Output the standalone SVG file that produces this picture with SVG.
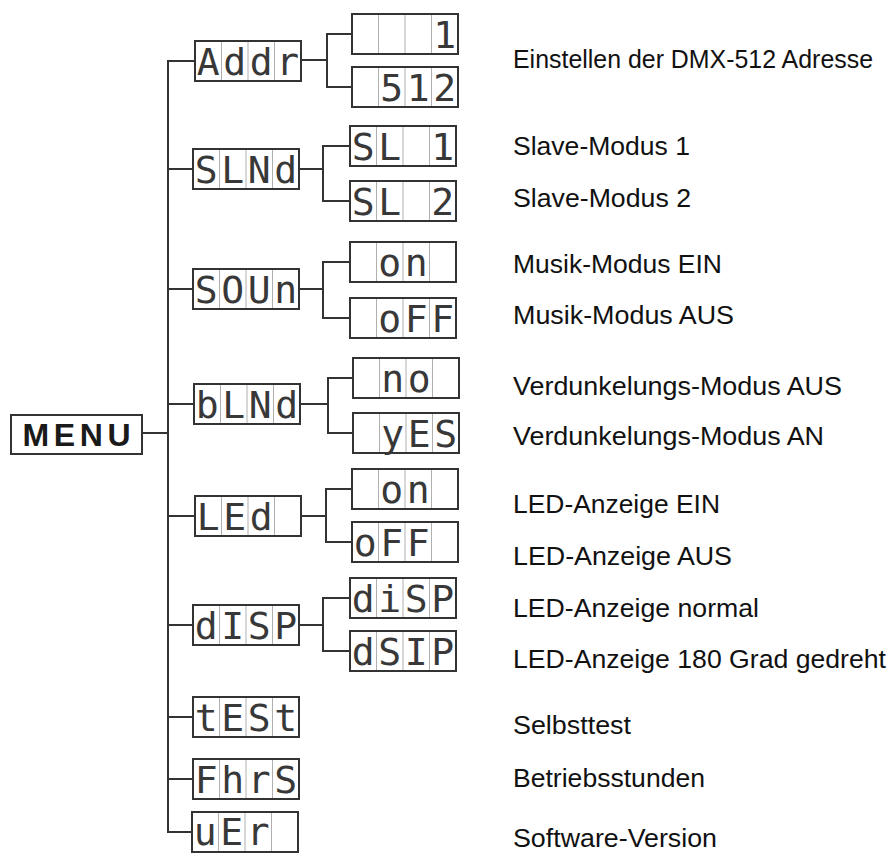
<svg xmlns="http://www.w3.org/2000/svg" width="890" height="854" viewBox="0 0 890 854">
<style>
.bg{fill:#fff}
.box{fill:#fff;stroke:#333;stroke-width:2}
.div{stroke:#b0b0b0;stroke-width:1;fill:none}
.seg{font-family:"DejaVu Sans Mono",monospace;font-size:38px;fill:#383838;text-anchor:middle}
.lbl{font-family:"Liberation Sans",Arial,sans-serif;font-size:25px;fill:#111}
.con{fill:none;stroke:#333;stroke-width:2}
.menu{font-family:"Liberation Sans",Arial,sans-serif;font-size:32px;font-weight:bold;fill:#1a1a1a;text-anchor:middle}
</style>
<defs>
<g id="cell">
<rect class="box" x="0" y="0" width="106" height="40"/>
<path class="div" d="M26.5,1V39M53,1V39M79.5,1V39"/>
</g>
</defs>
<rect class="bg" x="0" y="0" width="890" height="854"/>

<g id="connectors">
<path class="con" d="M142,433H168"/>
<path class="con" d="M195,61H168V832H192"/>
<path class="con" d="M168,169H193M168,289H193M168,404H194M168,516H195M168,625H193M168,717H193M168,779H193"/>
<path class="con" d="M301,60H327M352,34H327V87H352"/>
<path class="con" d="M299,169H323M350,146H323V201H350"/>
<path class="con" d="M299,289H323M350,262H323V318H350"/>
<path class="con" d="M300,404H328M353,378H328V433H353"/>
<path class="con" d="M301,516H326M352,489H326V542H352"/>
<path class="con" d="M299,625H323M350,598H323V651H350"/>
</g>

<g id="menu">
<rect class="box" x="11" y="415" width="131" height="39"/>
<text class="menu" x="76.5" y="446" textLength="108" lengthAdjust="spacing">MENU</text>
</g>

<g id="m-addr" transform="translate(195,41)"><use href="#cell"/><text class="seg" x="13.25 39.75 66.25 92.75" y="34">Addr</text></g>
<g id="m-slnd" transform="translate(193,149)"><use href="#cell"/><text class="seg" x="13.25 39.75 66.25 92.75" y="34">SLNd</text></g>
<g id="m-soun" transform="translate(193,269)"><use href="#cell"/><text class="seg" x="13.25 39.75 66.25 92.75" y="34">SOUn</text></g>
<g id="m-blnd" transform="translate(194,384)"><use href="#cell"/><text class="seg" x="13.25 39.75 66.25 92.75" y="34">bLNd</text></g>
<g id="m-led" transform="translate(195,496)"><use href="#cell"/><text class="seg" x="13.25 39.75 66.25" y="34">LEd</text></g>
<g id="m-disp" transform="translate(193,605)"><use href="#cell"/><text class="seg" x="13.25 39.75 66.25 92.75" y="34">dISP</text></g>
<g id="m-test" transform="translate(193,697)"><use href="#cell"/><text class="seg" x="13.25 39.75 66.25 92.75" y="34">tESt</text></g>
<g id="m-fhrs" transform="translate(193,759)"><use href="#cell"/><text class="seg" x="13.25 39.75 66.25 92.75" y="34">FhrS</text></g>
<g id="m-ver" transform="translate(192,812)"><use href="#cell"/><text class="seg" x="13.25 39.75 66.25" y="33">uEr</text></g>

<g id="s-addr1" transform="translate(352,14)"><use href="#cell"/><text class="seg" x="92.75" y="34">1</text></g>
<g id="s-addr512" transform="translate(352,67)"><use href="#cell"/><text class="seg" x="39.75 66.25 92.75" y="34">512</text></g>
<g id="s-sl1" transform="translate(350,126)"><use href="#cell"/><text class="seg" x="13.25 39.75 92.75" y="34">SL1</text></g>
<g id="s-sl2" transform="translate(350,181)"><use href="#cell"/><text class="seg" x="13.25 39.75 92.75" y="34">SL2</text></g>
<g id="s-on" transform="translate(350,242)"><use href="#cell"/><text class="seg" x="39.75 66.25" y="34">on</text></g>
<g id="s-off" transform="translate(350,298)"><use href="#cell"/><text class="seg" x="39.75 66.25 92.75" y="34">oFF</text></g>
<g id="s-no" transform="translate(353,358)"><use href="#cell"/><text class="seg" x="39.75 66.25" y="34">no</text></g>
<g id="s-yes" transform="translate(353,413)"><use href="#cell"/><text class="seg" x="39.75 66.25 92.75" y="34">yES</text></g>
<g id="s-ledon" transform="translate(352,469)"><use href="#cell"/><text class="seg" x="39.75 66.25" y="34">on</text></g>
<g id="s-ledoff" transform="translate(352,522)"><use href="#cell"/><text class="seg" x="13.25 39.75 66.25" y="34">oFF</text></g>
<g id="s-disp1" transform="translate(350,578)"><use href="#cell"/><text class="seg" x="13.25 39.75 66.25 92.75" y="34">diSP</text></g>
<g id="s-disp2" transform="translate(350,631)"><use href="#cell"/><text class="seg" x="13.25 39.75 66.25 92.75" y="34">dSIP</text></g>

<g id="labels">
<text class="lbl" x="513" y="68" textLength="360" lengthAdjust="spacingAndGlyphs">Einstellen der DMX-512 Adresse</text>
<text class="lbl" x="513" y="155" textLength="177" lengthAdjust="spacingAndGlyphs">Slave-Modus 1</text>
<text class="lbl" x="513" y="207" textLength="178" lengthAdjust="spacingAndGlyphs">Slave-Modus 2</text>
<text class="lbl" x="513" y="273" textLength="209" lengthAdjust="spacingAndGlyphs">Musik-Modus EIN</text>
<text class="lbl" x="513" y="324" textLength="221" lengthAdjust="spacingAndGlyphs">Musik-Modus AUS</text>
<text class="lbl" x="513" y="395" textLength="329" lengthAdjust="spacingAndGlyphs">Verdunkelungs-Modus AUS</text>
<text class="lbl" x="513" y="445" textLength="311" lengthAdjust="spacingAndGlyphs">Verdunkelungs-Modus AN</text>
<text class="lbl" x="513" y="513" textLength="207" lengthAdjust="spacingAndGlyphs">LED-Anzeige EIN</text>
<text class="lbl" x="513" y="565" textLength="219" lengthAdjust="spacingAndGlyphs">LED-Anzeige AUS</text>
<text class="lbl" x="513" y="617" textLength="246" lengthAdjust="spacingAndGlyphs">LED-Anzeige normal</text>
<text class="lbl" x="513" y="668" textLength="373" lengthAdjust="spacingAndGlyphs">LED-Anzeige 180 Grad gedreht</text>
<text class="lbl" x="513" y="734" textLength="118" lengthAdjust="spacingAndGlyphs">Selbsttest</text>
<text class="lbl" x="513" y="787" textLength="192" lengthAdjust="spacingAndGlyphs">Betriebsstunden</text>
<text class="lbl" x="513" y="847" textLength="204" lengthAdjust="spacingAndGlyphs">Software-Version</text>
</g>
</svg>
